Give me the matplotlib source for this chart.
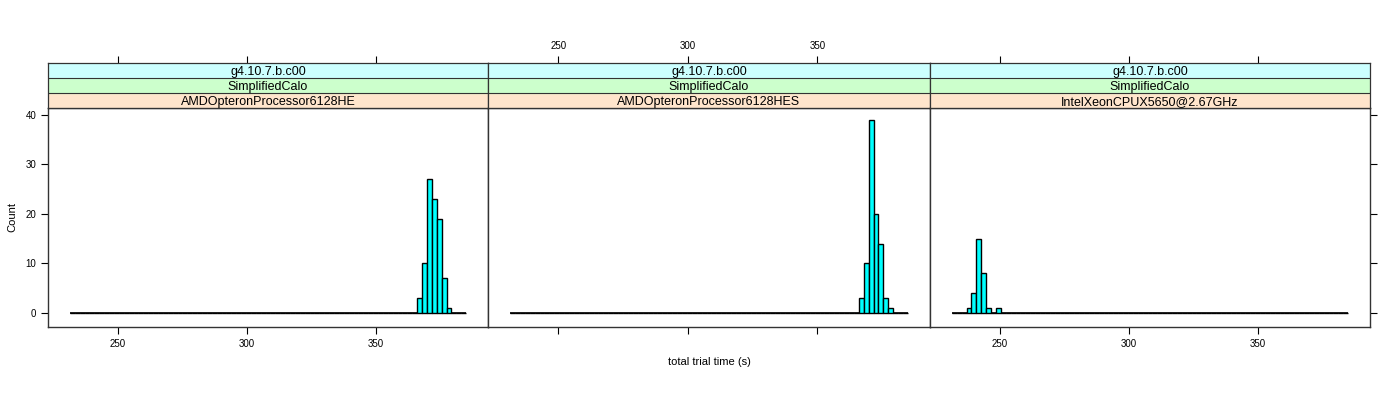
import matplotlib
matplotlib.use("Agg")
import matplotlib.pyplot as plt
import numpy as np

plt.rcParams['font.family'] = ['Liberation Sans', 'DejaVu Sans']

# bins shared by all panels
bin_lo = 231.4
bin_hi = 384.9
n_bins = 81

strip_version = ["g4.10.7.b.c00", "g4.10.7.b.c00", "g4.10.7.b.c00"]
strip_test = ["SimplifiedCalo", "SimplifiedCalo", "SimplifiedCalo"]
strip_cpu = ["AMDOpteronProcessor6128HE", "AMDOpteronProcessor6128HES",
             "IntelXeonCPUX5650@2.67GHz"]

# first non-empty bin and counts from there on
first_bin = [71, 71, 3]
counts = [
    [3, 10, 27, 23, 19, 7, 1],
    [3, 10, 39, 20, 14, 3, 1],
    [1, 4, 15, 8, 1, 0, 1],
]

xticks = [250, 300, 350]
yticks = [0, 10, 20, 30, 40]

W, H = 1400, 400
fig = plt.figure(figsize=(W / 100, H / 100), dpi=100)

panel_x = [48, 488, 930, 1370]
plot_top, plot_bot = 108, 327
strip_h = 15
strip_cols = ["#CCFFFF", "#CCFFCC", "#FFE5CC"]

edges = np.linspace(bin_lo, bin_hi, n_bins + 1)
width = edges[1] - edges[0]

def fx(px):
    return px / W

def fy(py):
    return 1 - py / H

for i in range(3):
    x0, x1 = panel_x[i], panel_x[i + 1]
    ax = fig.add_axes([fx(x0), fy(plot_bot), fx(x1 - x0), (plot_bot - plot_top) / H])
    full = np.zeros(n_bins)
    full[first_bin[i]:first_bin[i] + len(counts[i])] = counts[i]
    # empty bins show up as a flat line, as in lattice
    ax.hlines(0, edges[0], edges[-1], color='black', linewidth=1.2, zorder=1)
    ax.bar(edges[:-1], full, width=width, align='edge', color='#00FFFF',
           edgecolor='black', linewidth=1.0, zorder=2)
    ax.set_xlim(222.9, 393.4)
    ax.set_ylim(-2.83, 41.4)
    for s in ax.spines.values():
        s.set_color('#333333')
        s.set_linewidth(1.0)
    ax.set_xticks(xticks)
    ax.set_yticks(yticks)
    ax.tick_params(direction='out', length=5, width=0.8, labelsize=7, colors='black')
    ax.tick_params(axis='x', bottom=True, labelbottom=(i != 1), top=False, labeltop=False)
    ax.tick_params(axis='y', left=(i == 0), labelleft=(i == 0),
                   right=(i == 2), labelright=False)

    # strips
    sx = fig.add_axes([fx(x0), fy(plot_top), fx(x1 - x0), 3 * strip_h / H])
    sx.set_xlim(222.9, 393.4)
    sx.set_ylim(0, 3)
    labels = [strip_cpu[i], strip_test[i], strip_version[i]]
    cols = [strip_cols[2], strip_cols[1], strip_cols[0]]
    for k in range(3):
        sx.axhspan(k, k + 1, color=cols[k], zorder=0)
        sx.axhline(k, color='#333333', linewidth=0.8)
        sx.text(0.5, (k + 0.42) / 3, labels[k], transform=sx.transAxes,
                ha='center', va='center', fontsize=9)
    for s in sx.spines.values():
        s.set_color('#333333')
        s.set_linewidth(0.9)
    sx.set_yticks([])
    sx.set_xticks(xticks)
    sx.tick_params(axis='x', direction='out', length=5, width=0.8, labelsize=7,
                   bottom=False, labelbottom=False, top=True, labeltop=(i == 1))

fig.text(fx(709), fy(362), "total trial time (s)", ha='center', va='center', fontsize=8)
fig.text(fx(12), fy(217), "Count", ha='center', va='center', rotation=90, fontsize=8)

fig.savefig("out.png", dpi=100)
